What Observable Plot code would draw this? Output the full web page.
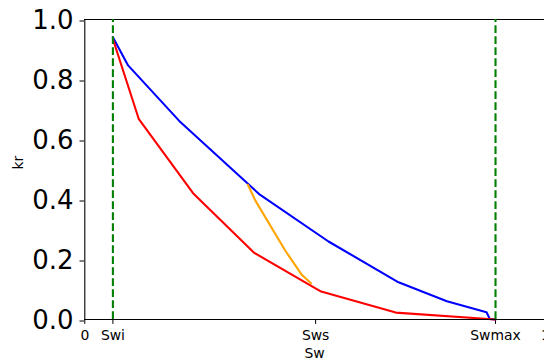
<!DOCTYPE html>
<html>
<head>
<meta charset="utf-8">
<script src="https://cdn.jsdelivr.net/npm/d3@7"></script>
<script src="https://cdn.jsdelivr.net/npm/@observablehq/plot@0.6"></script>
<style>
  html, body { margin: 0; padding: 0; background: #fff; }
  svg { display: block; font-family: "DejaVu Sans", sans-serif; }
</style>
</head>
<body>
<div id="chart"></div>
<script>
// Saturation ticks and their labels
const swTicks = [0, 0.061, 0.501, 0.8915, 1];
const swTickLabels = ["0", "Swi", "Sws", "Swmax", "1"];
const krTicks = [0, 0.2, 0.4, 0.6, 0.8, 1.0];

// End-point saturations (dashed markers)
const swLimits = [0.061, 0.8915];

// Blue curve
const blueSw = [0.061, 0.094, 0.205, 0.380, 0.529, 0.681, 0.786, 0.872, 0.879, 0.8915];
const blueKr = [0.941, 0.847, 0.662, 0.416, 0.260, 0.124, 0.061, 0.024, 0.002, 0.0];

// Red curve
const redSw = [0.061, 0.117, 0.235, 0.368, 0.513, 0.675, 0.8915];
const redKr = [0.935, 0.669, 0.421, 0.222, 0.093, 0.023, 0.0];

// Orange segment
const orangeSw = [0.354, 0.370, 0.435, 0.471, 0.491];
const orangeKr = [0.449, 0.397, 0.230, 0.149, 0.121];

const toRows = (xs, ys) => xs.map((x, i) => ({sw: x, kr: ys[i]}));
const blue = toRows(blueSw, blueKr);
const red = toRows(redSw, redKr);
const orange = toRows(orangeSw, orangeKr);

const chart = Plot.plot({
  width: 544,
  height: 362,
  marginLeft: 84,
  marginRight: 0,
  marginTop: 19,
  marginBottom: 43,
  style: {fontFamily: "DejaVu Sans, sans-serif", color: "black", background: "white"},
  x: {domain: [0, 1], range: [84.3, 545]},
  y: {domain: [0, 1]},
  marks: [
    // axes frame
    Plot.ruleY([1], {stroke: "black", strokeWidth: 1.1}),
    Plot.ruleX([1], {stroke: "black", strokeWidth: 1.1}),
    Plot.axisY({
      ticks: krTicks, tickFormat: d3.format(".1f"), fontSize: 26,
      tickSize: 4.5, tickPadding: 6.5, label: null, dy: 1.5
    }),
    Plot.axisX({
      ticks: swTicks, tickFormat: (d, i) => swTickLabels[i], fontSize: 13.9,
      tickSize: 4.9, tickPadding: 6, label: null
    }),
    Plot.text(["Sw"], {frameAnchor: "bottom", dy: 34, fontSize: 13.9, lineAnchor: "middle"}),
    Plot.text(["kr"], {frameAnchor: "left", dx: -66, rotate: -90, fontSize: 13.9, lineAnchor: "middle"}),
    // curves
    Plot.line(blue, {x: "sw", y: "kr", stroke: "#0000ff", strokeWidth: 2.1}),
    Plot.line(red, {x: "sw", y: "kr", stroke: "#ff0000", strokeWidth: 2.1}),
    Plot.line(orange, {x: "sw", y: "kr", stroke: "#ffa500", strokeWidth: 2.1}),
    // end-point markers
    Plot.ruleX(swLimits, {y1: 0, y2: 1, stroke: "#008000", strokeWidth: 2.1, strokeDasharray: "7.7,3.3"}),
    Plot.ruleX([0], {stroke: "black", strokeWidth: 1.1}),
    Plot.ruleY([0], {stroke: "black", strokeWidth: 1.1})
  ]
});
document.getElementById("chart").appendChild(chart);
</script>
</body>
</html>
